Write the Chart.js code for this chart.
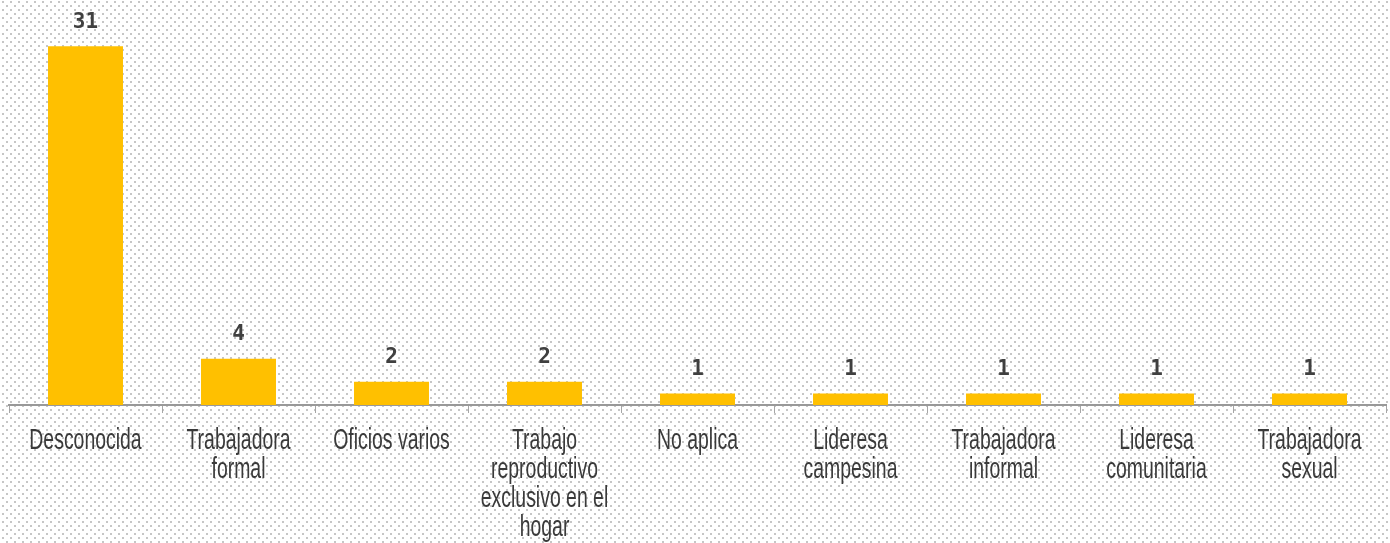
<!DOCTYPE html>
<html><head><meta charset="utf-8">
<script src="https://cdn.jsdelivr.net/npm/chart.js@4.4.1/dist/chart.umd.min.js"></script>
<style>
html,body{margin:0;padding:0;background:#fff;}
#wrap{position:relative;width:1390px;height:543px;}
</style></head>
<body><div id="wrap"><canvas id="c" width="1390" height="543"></canvas></div>
<script>
const categories = [
  ["Desconocida"],
  ["Trabajadora","formal"],
  ["Oficios varios"],
  ["Trabajo","reproductivo","exclusivo en el","hogar"],
  ["No aplica"],
  ["Lideresa","campesina"],
  ["Trabajadora","informal"],
  ["Lideresa","comunitaria"],
  ["Trabajadora","sexual"]
];
const values = [31, 4, 2, 2, 1, 1, 1, 1, 1];

const dotBg = {
  id: 'dotBg',
  beforeDraw(chart) {
    const ctx = chart.ctx;
    const p = document.createElement('canvas');
    p.width = 8; p.height = 8;
    const pc = p.getContext('2d');
    pc.fillStyle = '#c6c6c6';
    pc.fillRect(2, 1, 2, 2);
    pc.fillRect(6, 5, 2, 2);
    ctx.save();
    ctx.fillStyle = '#ffffff';
    ctx.fillRect(0, 0, chart.width, chart.height);
    ctx.fillStyle = ctx.createPattern(p, 'repeat');
    ctx.fillRect(0, 0, chart.width, chart.height);
    ctx.restore();
  }
};

const valueLabels = {
  id: 'valueLabels',
  afterDatasetsDraw(chart) {
    const ctx = chart.ctx;
    const meta = chart.getDatasetMeta(0);
    ctx.save();
    ctx.font = 'bold 21px "DejaVu Sans Mono", monospace';
    ctx.fillStyle = '#404040';
    ctx.textAlign = 'center';
    ctx.textBaseline = 'middle';
    meta.data.forEach((bar, i) => {
      ctx.fillText(String(values[i]), bar.x, bar.y - 24);
    });
    ctx.restore();
  }
};

// condensed category labels drawn at the x scale's own tick positions
const condensedLabels = {
  id: 'condensedLabels',
  afterDraw(chart) {
    const ctx = chart.ctx;
    const xs = chart.scales.x;
    const base = xs.top + 44;
    ctx.save();
    ctx.font = '29px "Liberation Sans", Arial, sans-serif';
    ctx.fillStyle = '#3a3a3a';
    ctx.textAlign = 'center';
    ctx.textBaseline = 'alphabetic';
    categories.forEach((lines, i) => {
      const x = xs.getPixelForTick(i);
      lines.forEach((t, j) => {
        ctx.save();
        ctx.translate(x, base + j * 29);
        ctx.scale(0.67, 1);
        ctx.fillText(t, 0, 0);
        ctx.restore();
      });
    });
    ctx.restore();
  }
};

new Chart(document.getElementById('c'), {
  type: 'bar',
  data: {
    labels: categories,
    datasets: [{
      data: values,
      backgroundColor: '#FFC000',
      borderWidth: 0,
      categoryPercentage: 0.98,
      barPercentage: 0.5
    }]
  },
  options: {
    responsive: false,
    animation: false,
    layout: { padding: { left: 9, right: 4, top: 0, bottom: 0 } },
    plugins: { legend: { display: false }, tooltip: { enabled: false } },
    scales: {
      y: { display: false, min: 0, max: 35 },
      x: {
        offset: true,
        afterFit(scale) { scale.height = 138; },
        border: { display: true, color: '#999999', width: 2 },
        grid: { display: true, drawOnChartArea: false, drawTicks: true, tickLength: 8, color: '#a6a6a6', lineWidth: 1, offset: true },
        ticks: {
          maxRotation: 0, autoSkip: false, padding: 12,
          color: 'rgba(0,0,0,0)',
          font: { family: '"Liberation Sans", sans-serif', size: 14 }
        }
      }
    }
  },
  plugins: [dotBg, valueLabels, condensedLabels]
});
</script></body></html>
